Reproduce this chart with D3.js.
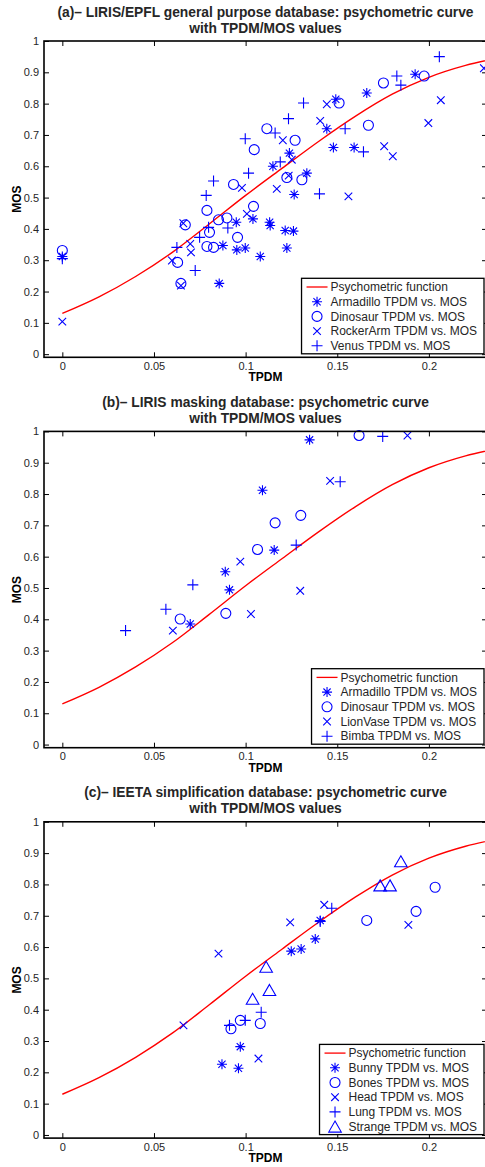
<!DOCTYPE html>
<meta charset="utf-8">
<head>
    <style>
        body { margin: 0; background: #fff; }
        svg { display: block; font-family: Arial, 'Liberation Sans', Helvetica, sans-serif; }
        .tick text { font-size: 11px; fill: #262626; }
        .tick line { stroke: #000; }
        .title { font-size: 13.8px; font-weight: bold; fill: #262626; }
        .label { font-size: 12px; font-weight: bold; fill: #000; }
        .leg text { font-size: 12px; fill: #262626; }
    </style>
</head>
<body>
<svg width="485" height="1167"></svg>
<script src="https://d3js.org/d3.v7.min.js"></script>
<script>

// tick values
var xTicks = [0, 0.05, 0.1, 0.15, 0.2];
var yTicks = [0, 0.1, 0.2, 0.3, 0.4, 0.5, 0.6, 0.7, 0.8, 0.9, 1];

// psychometric function
var curveTPDM = [0, 0.02, 0.04, 0.06, 0.08, 0.10, 0.12, 0.14, 0.16, 0.18, 0.20, 0.22, 0.24];
var curveMOS  = [0.130, 0.183, 0.248, 0.325, 0.415, 0.507, 0.594, 0.680, 0.760, 0.830, 0.884, 0.922, 0.948];

// (a) LIRIS/EPFL general purpose  [TPDM, MOS]
var armadilloA = [[0, 0.312], [0.0856, 0.226], [0.0876, 0.347], [0.0949, 0.421], [0.0952, 0.333], [0.0998, 0.339],
    [0.1040, 0.432], [0.1080, 0.312], [0.1131, 0.421], [0.1134, 0.411], [0.1216, 0.395], [0.1261, 0.393],
    [0.1225, 0.339], [0.1149, 0.600], [0.1239, 0.642], [0.1265, 0.510], [0.1334, 0.578], [0.1443, 0.720],
    [0.1479, 0.660], [0.1492, 0.814], [0.1592, 0.660], [0.1661, 0.834], [0.1925, 0.894]];
var dinosaurA = [[0, 0.331], [0.0629, 0.293], [0.0647, 0.226], [0.0671, 0.413], [0.0789, 0.459], [0.0789, 0.344],
    [0.0803, 0.389], [0.0825, 0.341], [0.0852, 0.429], [0.0898, 0.435], [0.0934, 0.542], [0.0956, 0.373],
    [0.1043, 0.472], [0.1047, 0.653], [0.1116, 0.720], [0.1225, 0.564], [0.1270, 0.683], [0.1307, 0.557],
    [0.1510, 0.802], [0.1670, 0.731], [0.1752, 0.866], [0.1974, 0.888]];
var rockerArmA = [[0, 0.104], [0.0598, 0.299], [0.0647, 0.219], [0.0660, 0.418], [0.0698, 0.352], [0.0702, 0.325],
    [0.0980, 0.531], [0.1007, 0.448], [0.1170, 0.528], [0.1203, 0.683], [0.1235, 0.570], [0.1252, 0.621],
    [0.1407, 0.745], [0.1443, 0.798], [0.1561, 0.504], [0.1756, 0.664], [0.1803, 0.632], [0.1997, 0.738],
    [0.2065, 0.811], [0.2300, 0.913]];
var venusA = [[0, 0.305], [0.0625, 0.341], [0.0725, 0.267], [0.0749, 0.373], [0.0785, 0.507], [0.0798, 0.405],
    [0.0825, 0.553], [0.0903, 0.403], [0.0998, 0.688], [0.1016, 0.578], [0.1161, 0.706], [0.1189, 0.614],
    [0.1234, 0.752], [0.1316, 0.802], [0.1403, 0.512], [0.1543, 0.720], [0.1643, 0.646], [0.1825, 0.888],
    [0.1847, 0.859], [0.2057, 0.950]];

// (b) LIRIS masking
var armadilloB = [[0.0698, 0.385], [0.0889, 0.552], [0.0912, 0.494], [0.1092, 0.812], [0.1156, 0.621], [0.1349, 0.973]];
var dinosaurB  = [[0.0643, 0.401], [0.0892, 0.419], [0.1065, 0.623], [0.1161, 0.708], [0.1301, 0.732], [0.1619, 0.987]];
var lionVaseB  = [[0.0603, 0.364], [0.0971, 0.584], [0.1029, 0.417], [0.1298, 0.491], [0.1461, 0.842], [0.1883, 0.987]];
var bimbaB     = [[0.0345, 0.364], [0.0565, 0.432], [0.0712, 0.510], [0.1276, 0.637], [0.1516, 0.839], [0.1748, 0.984]];

// (c) IEETA simplification
var bunnyC   = [[0.0871, 0.226], [0.0961, 0.213], [0.0971, 0.282], [0.1249, 0.587], [0.1303, 0.594], [0.1380, 0.626], [0.1407, 0.685]];
var bonesC   = [[0.0920, 0.339], [0.0971, 0.366], [0.1080, 0.356], [0.1661, 0.685], [0.1930, 0.714], [0.2034, 0.791]];
var headC    = [[0.0661, 0.350], [0.0852, 0.579], [0.1070, 0.244], [0.1243, 0.679], [0.1429, 0.735], [0.1888, 0.671]];
var lungC    = [[0.0912, 0.350], [0.0998, 0.366], [0.1085, 0.392], [0.1407, 0.682], [0.1470, 0.724]];
var strangeC = [[0.1038, 0.435], [0.1112, 0.537], [0.1130, 0.463], [0.1734, 0.797], [0.1788, 0.797], [0.1847, 0.874]];

var titlesA = ["(a)\u2013 LIRIS/EPFL general purpose database: psychometric curve", "with TPDM/MOS values"];
var titlesB = ["(b)\u2013 LIRIS masking database: psychometric curve", "with TPDM/MOS values"];
var titlesC = ["(c)\u2013 IEETA simplification database: psychometric curve", "with TPDM/MOS values"];

var panels = [
    { top: 41, titles: titlesA, series: [
        { name: "Armadillo TPDM vs. MOS", mark: "star", data: armadilloA },
        { name: "Dinosaur TPDM vs. MOS", mark: "circle", data: dinosaurA },
        { name: "RockerArm TPDM vs. MOS", mark: "x", data: rockerArmA },
        { name: "Venus TPDM vs. MOS", mark: "plus", data: venusA }] },
    { top: 431.4, titles: titlesB, series: [
        { name: "Armadillo TPDM vs. MOS", mark: "star", data: armadilloB },
        { name: "Dinosaur TPDM vs. MOS", mark: "circle", data: dinosaurB },
        { name: "LionVase TPDM vs. MOS", mark: "x", data: lionVaseB },
        { name: "Bimba TPDM vs. MOS", mark: "plus", data: bimbaB }] },
    { top: 821.8, titles: titlesC, series: [
        { name: "Bunny TPDM vs. MOS", mark: "star", data: bunnyC },
        { name: "Bones TPDM vs. MOS", mark: "circle", data: bonesC },
        { name: "Head TPDM vs. MOS", mark: "x", data: headC },
        { name: "Lung TPDM vs. MOS", mark: "plus", data: lungC },
        { name: "Strange TPDM vs. MOS", mark: "triangle", data: strangeC }] }
];

var markPaths = {
    star: "M-5,0H5M0,-5V5M-3.6,-3.6L3.6,3.6M-3.6,3.6L3.6,-3.6",
    circle: "M5,0A5,5 0 1,1 -5,0A5,5 0 1,1 5,0Z",
    x: "M-3.8,-3.8L3.8,3.8M-3.8,3.8L3.8,-3.8",
    plus: "M-5.5,0H5.5M0,-5.5V5.5",
    triangle: "M0,-5.5L6.3,5.5H-6.3Z"
};

var svg = d3.select("svg");
var left = 44, right = 487, plotH = 316.3;
var blue = "#0000ff", red = "#ff0000";

var x = d3.scaleLinear().domain([-0.01, 0.2317]).range([left, right]);

panels.forEach(function (p, pi) {
    var top = p.top, bottom = top + plotH;
    var y = d3.scaleLinear().domain([-0.01, 1]).range([bottom, top]);
    var g = svg.append("g");

    // titles
    g.selectAll(".title").data(p.titles).enter().append("text")
        .attr("class", "title")
        .attr("x", (left + right) / 2)
        .attr("y", function (d, i) { return top - 24.5 + i * 16; })
        .attr("text-anchor", "middle")
        .text(function (d) { return d; });

    // axes, ticks inward on all four sides
    g.append("g").attr("transform", "translate(0," + bottom + ")")
        .call(d3.axisBottom(x).tickValues(xTicks).tickSize(-5).tickPadding(5).tickFormat(d3.format("")));
    g.append("g").attr("transform", "translate(0," + top + ")")
        .call(d3.axisTop(x).tickValues(xTicks).tickSize(-5).tickFormat(""));
    g.append("g").attr("transform", "translate(" + left + ",0)")
        .call(d3.axisLeft(y).tickValues(yTicks).tickSize(-5).tickPadding(5).tickFormat(d3.format("")));
    g.append("g").attr("transform", "translate(" + right + ",0)")
        .call(d3.axisRight(y).tickValues(yTicks).tickSize(-5).tickFormat(""));
    g.selectAll(".domain").remove();

    g.append("text").attr("class", "label")
        .attr("x", (left + right) / 2).attr("y", bottom + 24)
        .attr("text-anchor", "middle").text("TPDM");
    g.append("text").attr("class", "label")
        .attr("transform", "translate(21," + (top + bottom) / 2 + ") rotate(-90)")
        .attr("text-anchor", "middle").text("MOS");

    // clip for curve
    svg.append("clipPath").attr("id", "clip" + pi)
        .append("rect").attr("x", left).attr("y", top).attr("width", right - left).attr("height", plotH);

    var line = d3.line()
        .x(function (d, i) { return x(curveTPDM[i]); })
        .y(function (d) { return y(d); })
        .curve(d3.curveMonotoneX);

    g.append("path").datum(curveMOS)
        .attr("clip-path", "url(#clip" + pi + ")")
        .attr("d", line)
        .attr("fill", "none").attr("stroke", red).attr("stroke-width", 1.4);

    p.series.forEach(function (s) {
        g.append("g").selectAll("path").data(s.data).enter().append("path")
            .attr("transform", function (d) { return "translate(" + x(d[0]) + "," + y(d[1]) + ")"; })
            .attr("d", markPaths[s.mark])
            .attr("fill", "none").attr("stroke", blue).attr("stroke-width", 1.1);
    });

    // box
    g.append("rect").attr("x", left).attr("y", top).attr("width", right - left).attr("height", plotH)
        .attr("fill", "none").attr("stroke", "#000").attr("stroke-width", 1.6);

    // legend, south east
    var entries = [{ name: "Psychometric function", mark: "line" }].concat(p.series);
    var rowH = 14.7;
    var legRight = right - 3;
    var legBottom = bottom - 3.5;
    var legH = entries.length * rowH + 2;
    var legTop = legBottom - legH;
    var leg = g.append("g").attr("class", "leg");
    var box = leg.append("rect").attr("fill", "#fff").attr("stroke", "#000").attr("stroke-width", 1.3);
    var texts = leg.selectAll("text").data(entries).enter().append("text")
        .attr("y", function (d, i) { return legTop + 8.7 + i * rowH + 4.2; })
        .text(function (d) { return d.name; });
    var maxW = d3.max(texts.nodes(), function (n) { return n.getComputedTextLength(); });
    var legLeft = legRight - maxW - 36;
    texts.attr("x", legLeft + 29);
    box.attr("x", legLeft).attr("y", legTop).attr("width", legRight - legLeft).attr("height", legH);

    entries.forEach(function (d, i) {
        var cy = legTop + 8.7 + i * rowH;
        if (d.mark === "line") {
            leg.append("line").attr("x1", legLeft + 5).attr("x2", legLeft + 26)
                .attr("y1", cy).attr("y2", cy).attr("stroke", red).attr("stroke-width", 1.3);
        } else {
            leg.append("path").attr("transform", "translate(" + (legLeft + 15.5) + "," + cy + ")")
                .attr("d", markPaths[d.mark])
                .attr("fill", "none").attr("stroke", blue).attr("stroke-width", 1.1);
        }
    });
});

</script>
</body>
